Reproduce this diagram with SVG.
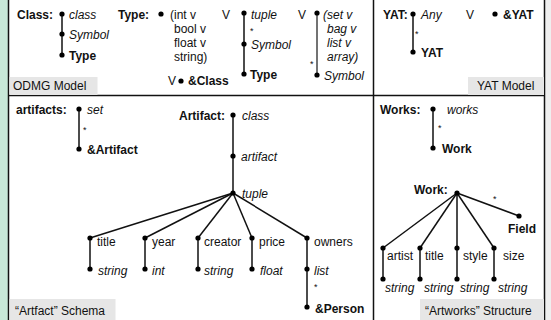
<svg xmlns="http://www.w3.org/2000/svg" width="551" height="320" viewBox="0 0 551 320">
  <style>
    text { font-family: "Liberation Sans", Arial, sans-serif; font-size: 12px; fill: #111; }
    .i { font-style: italic; }
    .b { font-weight: bold; }
    .s { font-size: 9px; }
    .cap { fill: #e6e6e6; }
    .frame { stroke: #111; stroke-width: 1.5; fill: none; }
    .edge { stroke: #111; stroke-width: 1.5; fill: none; }
    .dot { fill: #000; }
  </style>
  <defs>
    <circle id="d" r="2.6" class="dot"/>
  </defs>

  <!-- page background, side stripes -->
  <rect width="551" height="320" fill="#fff"/>
  <rect x="0" y="0" width="8" height="320" fill="#c8e8d8"/>
  <rect x="545" y="0" width="6" height="320" fill="#efefef"/>

  <!-- panel frame -->
  <g id="frame">
    <line class="frame" x1="8.5" y1="0" x2="8.5" y2="320"/>
    <line class="frame" x1="544.5" y1="0" x2="544.5" y2="320"/>
    <line class="frame" x1="8" y1="95.5" x2="545" y2="95.5"/>
    <line class="frame" x1="373.5" y1="0" x2="373.5" y2="320"/>
  </g>

  <!-- captions -->
  <g id="cap-odmg"><rect class="cap" x="9.5" y="77" width="88" height="18"/><text x="13" y="90">ODMG Model</text></g>
  <g id="cap-yat"><rect class="cap" x="468" y="77" width="76" height="18"/><text x="477" y="90">YAT Model</text></g>
  <g id="cap-artifact"><rect class="cap" x="9.5" y="299" width="106" height="21"/><text x="15" y="315">“Artfact” Schema</text></g>
  <g id="cap-artworks"><rect class="cap" x="420" y="299" width="124" height="21"/><text x="425" y="315">“Artworks” Structure</text></g>

  <!-- connectors -->
  <g id="connectors" class="edge">
    <!-- ODMG -->
    <line x1="62" y1="14" x2="62" y2="55"/>
    <line x1="244" y1="13" x2="244" y2="74"/>
    <line x1="317" y1="13" x2="317" y2="75" stroke="#444"/>
    <!-- YAT -->
    <line x1="413" y1="14" x2="413" y2="52"/>
    <!-- artifacts -->
    <line x1="79" y1="109" x2="79" y2="149"/>
    <line x1="233" y1="115" x2="233" y2="193"/>
    <line x1="233" y1="193" x2="90" y2="238"/>
    <line x1="233" y1="193" x2="145" y2="238"/>
    <line x1="233" y1="193" x2="198" y2="238"/>
    <line x1="233" y1="193" x2="252" y2="238"/>
    <line x1="233" y1="193" x2="307" y2="238"/>
    <line x1="90" y1="238" x2="90" y2="269"/>
    <line x1="145" y1="238" x2="145" y2="269"/>
    <line x1="198" y1="238" x2="198" y2="269"/>
    <line x1="252" y1="238" x2="252" y2="269"/>
    <line x1="307" y1="238" x2="307" y2="307"/>
    <!-- works -->
    <line x1="433" y1="109" x2="433" y2="148"/>
    <line x1="457" y1="193" x2="383" y2="248"/>
    <line x1="457" y1="193" x2="420" y2="248"/>
    <line x1="457" y1="193" x2="457" y2="248"/>
    <line x1="457" y1="193" x2="494" y2="248"/>
    <line x1="457" y1="193" x2="519" y2="216"/>
    <line x1="383" y1="248" x2="383" y2="279"/>
    <line x1="420" y1="248" x2="420" y2="279"/>
    <line x1="457" y1="248" x2="457" y2="279"/>
    <line x1="494" y1="248" x2="494" y2="279"/>
  </g>

  <!-- ODMG: Class -->
  <g id="odmg-class">
    <text class="b" x="17" y="19">Class:</text>
    <use href="#d" x="62" y="14"/><text class="i" x="69" y="19">class</text>
  </g>
  <g id="odmg-class-symbol"><use href="#d" x="62" y="34"/><text class="i" x="69" y="39">Symbol</text></g>
  <g id="odmg-class-type"><use href="#d" x="62" y="55"/><text class="b" x="69" y="60">Type</text></g>

  <!-- ODMG: Type -->
  <g id="odmg-type">
    <text class="b" x="118" y="19">Type:</text>
    <use href="#d" x="161" y="14"/>
    <text x="170" y="19">(int v</text>
    <text x="174" y="33">bool v</text>
    <text x="174" y="47">float v</text>
    <text x="174" y="61">string)</text>
  </g>
  <g id="odmg-type-class">
    <text x="168" y="85">V</text>
    <use href="#d" x="181" y="81"/>
    <text class="b" x="188" y="85">&amp;Class</text>
  </g>
  <g id="odmg-type-tuple">
    <text x="222" y="19">V</text>
    <use href="#d" x="244" y="13"/><text class="i" x="251" y="19">tuple</text>
    <text class="s" x="250" y="34">*</text>
  </g>
  <g id="odmg-tuple-symbol"><use href="#d" x="244" y="44"/><text class="i" x="251" y="49">Symbol</text></g>
  <g id="odmg-tuple-type"><use href="#d" x="244" y="74"/><text class="b" x="250" y="79">Type</text></g>
  <g id="odmg-type-coll">
    <text x="298" y="19">V</text>
    <use href="#d" x="317" y="13"/>
    <text class="i" x="323" y="19">(set v</text>
    <text class="i" x="327" y="33">bag v</text>
    <text class="i" x="327" y="47">list v</text>
    <text class="i" x="327" y="61">array)</text>
    <text class="s" x="310" y="67">*</text>
  </g>
  <g id="odmg-coll-symbol"><use href="#d" x="317" y="75"/><text class="i" x="324" y="80">Symbol</text></g>

  <!-- YAT -->
  <g id="yat">
    <text class="b" x="383" y="19">YAT:</text>
    <use href="#d" x="413" y="14"/><text class="i" x="421" y="19">Any</text>
    <text class="s" x="415" y="37">*</text>
  </g>
  <g id="yat-ref"><text x="466" y="19">V</text><use href="#d" x="495" y="14"/><text class="b" x="503" y="19">&amp;YAT</text></g>
  <g id="yat-yat"><use href="#d" x="413" y="52"/><text class="b" x="421" y="57">YAT</text></g>

  <!-- artifacts -->
  <g id="artifacts">
    <text class="b" x="16" y="114">artifacts:</text>
    <use href="#d" x="79" y="109"/><text class="i" x="87" y="114">set</text>
    <text class="s" x="83" y="133">*</text>
  </g>
  <g id="artifacts-ref"><use href="#d" x="79" y="149"/><text class="b" x="87" y="154">&amp;Artifact</text></g>

  <g id="artifact">
    <text class="b" x="225" y="120" text-anchor="end">Artifact:</text>
    <use href="#d" x="233" y="115"/><text class="i" x="242" y="120">class</text>
  </g>
  <g id="artifact-artifact"><use href="#d" x="233" y="156"/><text class="i" x="241" y="161">artifact</text></g>
  <g id="artifact-tuple"><use href="#d" x="233" y="193"/><text class="i" x="242" y="198">tuple</text></g>

  <g id="a-title"><use href="#d" x="90" y="238"/><text x="97" y="246">title</text></g>
  <g id="a-title-t"><use href="#d" x="90" y="269"/><text class="i" x="98" y="275">string</text></g>
  <g id="a-year"><use href="#d" x="145" y="238"/><text x="152" y="246">year</text></g>
  <g id="a-year-t"><use href="#d" x="145" y="269"/><text class="i" x="152" y="275">int</text></g>
  <g id="a-creator"><use href="#d" x="198" y="238"/><text x="204" y="246">creator</text></g>
  <g id="a-creator-t"><use href="#d" x="198" y="269"/><text class="i" x="204" y="275">string</text></g>
  <g id="a-price"><use href="#d" x="252" y="238"/><text x="259" y="246">price</text></g>
  <g id="a-price-t"><use href="#d" x="252" y="269"/><text class="i" x="260" y="275">float</text></g>
  <g id="a-owners"><use href="#d" x="307" y="238"/><text x="314" y="246">owners</text></g>
  <g id="a-owners-t"><use href="#d" x="307" y="269"/><text class="i" x="314" y="275">list</text><text class="s" x="314" y="290">*</text></g>
  <g id="a-owners-ref"><use href="#d" x="307" y="307"/><text class="b" x="315" y="313">&amp;Person</text></g>

  <!-- works -->
  <g id="works">
    <text class="b" x="380" y="114">Works:</text>
    <use href="#d" x="433" y="109"/><text class="i" x="447" y="114">works</text>
    <text class="s" x="438" y="131">*</text>
  </g>
  <g id="works-work"><use href="#d" x="433" y="148"/><text class="b" x="442" y="153">Work</text></g>

  <g id="work"><text class="b" x="414" y="194">Work:</text><use href="#d" x="457" y="193"/></g>
  <g id="w-field"><text class="s" x="493" y="202">*</text><use href="#d" x="519" y="216"/><text class="b" x="508" y="233">Field</text></g>
  <g id="w-artist"><use href="#d" x="383" y="248"/><text x="387" y="260">artist</text></g>
  <g id="w-artist-t"><use href="#d" x="383" y="279"/><text class="i" x="385" y="292">string</text></g>
  <g id="w-title"><use href="#d" x="420" y="248"/><text x="425" y="260">title</text></g>
  <g id="w-title-t"><use href="#d" x="420" y="279"/><text class="i" x="424" y="292">string</text></g>
  <g id="w-style"><use href="#d" x="457" y="248"/><text x="463" y="260">style</text></g>
  <g id="w-style-t"><use href="#d" x="457" y="279"/><text class="i" x="460" y="292">string</text></g>
  <g id="w-size"><use href="#d" x="494" y="248"/><text x="503" y="260">size</text></g>
  <g id="w-size-t"><use href="#d" x="494" y="279"/><text class="i" x="498" y="292">string</text></g>
</svg>
